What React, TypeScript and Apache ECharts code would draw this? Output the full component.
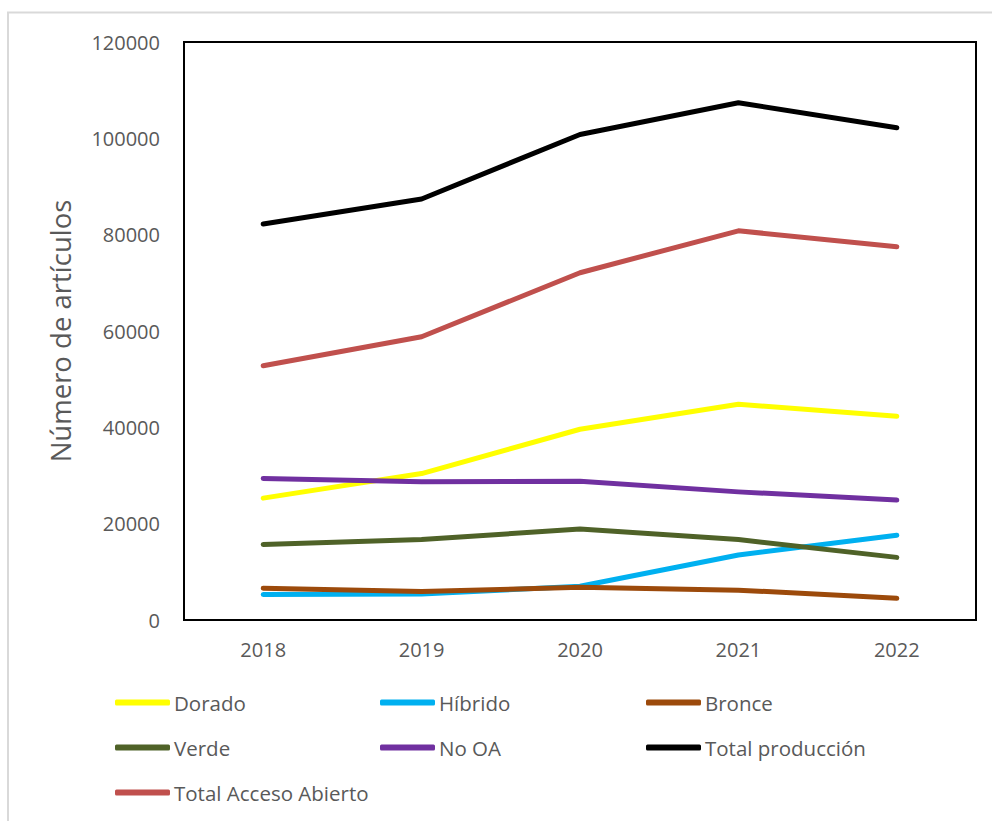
import React, { useEffect, useRef } from "react";
import * as echarts from "echarts";

const years = ["2018", "2019", "2020", "2021", "2022"];
const dorado = [25300, 30400, 39600, 44800, 42300];
const hibrido = [5300, 5400, 7000, 13500, 17600];
const bronce = [6600, 5900, 6800, 6200, 4500];
const verde = [15700, 16700, 18900, 16700, 13000];
const noOA = [29400, 28700, 28800, 26600, 24900];
const totalProduccion = [82200, 87400, 100800, 107400, 102200];
const totalAccesoAbierto = [52800, 58800, 72100, 80800, 77500];

const seriesNames = ["Dorado", "Híbrido", "Bronce", "Verde", "No OA", "Total producción", "Total Acceso Abierto"];
const seriesData = [dorado, hibrido, bronce, verde, noOA, totalProduccion, totalAccesoAbierto];
const seriesColors = ["#FFFF00", "#00B0F0", "#9C4A0B", "#4F6228", "#7030A0", "#000000", "#C0504D"];

const FONT = "'Open Sans', sans-serif";
const TXT = "#595959";

export default function App() {
  const ref = useRef<HTMLDivElement>(null);
  useEffect(() => {
    if (!ref.current) return;
    const chart = echarts.init(ref.current, null, { renderer: "svg" });
    const legendPos = [
      [115, 692], [380, 692], [646, 692],
      [115, 737], [380, 737], [646, 737],
      [115, 782],
    ];
    chart.setOption({
      animation: false,
      backgroundColor: "#ffffff",
      graphic: [
        {
          type: "rect",
          shape: { x: 8, y: 12.5, width: 1000, height: 830 },
          style: { fill: "none", stroke: "#d9d9d9", lineWidth: 2 },
          silent: true,
        },
      ],
      grid: {
        left: 184,
        top: 42,
        right: 16,
        bottom: 201,
        show: true,
        borderColor: "#000000",
        borderWidth: 2,
        backgroundColor: "transparent",
      },
      legend: seriesNames.map((n, i) => ({
        data: [n],
        left: legendPos[i][0],
        top: legendPos[i][1],
        itemWidth: 55,
        itemHeight: 6,
        icon: "roundRect",
        padding: 0,
        selectedMode: false,
        textStyle: { fontFamily: FONT, fontSize: 20.5, color: TXT, padding: [0, 0, 0, -1] },
      })),
      xAxis: {
        type: "category",
        data: years,
        boundaryGap: true,
        axisLine: { show: false },
        axisTick: { show: false },
        axisLabel: { fontFamily: FONT, fontSize: 20, color: TXT, margin: 19 },
      },
      yAxis: {
        type: "value",
        min: 0,
        max: 120000,
        interval: 20000,
        name: "Número de artículos",
        nameLocation: "middle",
        nameGap: 110,
        nameTextStyle: { fontFamily: FONT, fontSize: 27.5, color: TXT },
        axisLine: { show: false },
        axisTick: { show: false },
        splitLine: { show: false },
        axisLabel: {
          fontFamily: FONT,
          fontSize: 20,
          color: TXT,
          margin: 24,
          formatter: (v: number) => String(v),
        },
      },
      series: seriesNames.map((n, i) => ({
        name: n,
        type: "line",
        data: seriesData[i],
        symbol: "none",
        color: seriesColors[i],
        lineStyle: { width: 5, color: seriesColors[i], cap: "round", join: "round" },
      })),
    });
    return () => chart.dispose();
  }, []);
  return (
    <div
      ref={ref}
      style={{ position: "fixed", left: 0, top: 0, width: 992, height: 821, background: "#fff" }}
    />
  );
}
